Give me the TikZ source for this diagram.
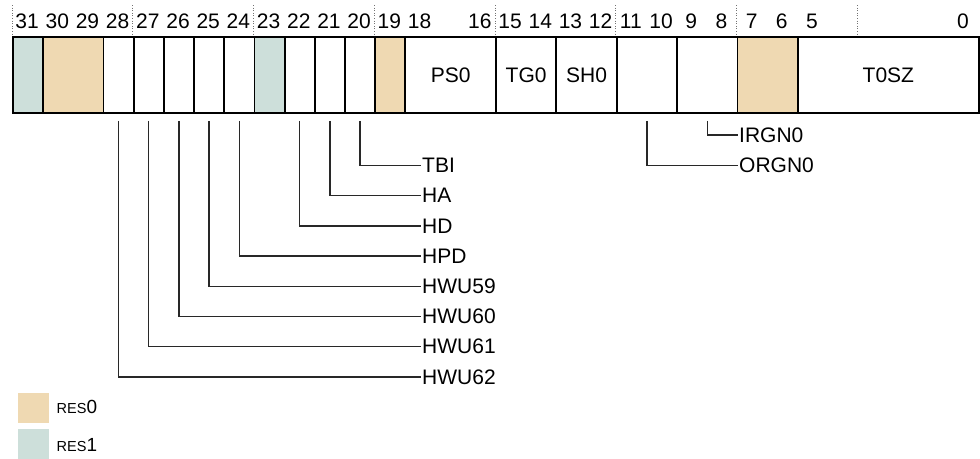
\documentclass[tikz,border=0pt]{standalone}
\usepackage{fontspec}
\setmainfont{Liberation Sans}
\definecolor{res0}{RGB}{239,217,178}
\definecolor{res1}{RGB}{205,223,218}
\definecolor{conncol}{RGB}{40,40,40}
\begin{document}
\begin{tikzpicture}[x=1pt,y=-1pt,
  field/.style={draw=black, line width=1.9pt, minimum height=76pt, inner sep=0pt, anchor=west,
    font=\fontsize{21}{23}\selectfont},
  bitnum/.style={inner sep=0pt, font=\fontsize{21}{23}\selectfont},
  lab/.style={anchor=west, inner sep=1pt, font=\fontsize{21}{23}\selectfont},
  conn/.style={draw=conncol, line width=1.4pt},
  nib/.style={draw=black!55, line width=0.6pt, dotted},
  legbox/.style={draw=none, inner sep=0pt, minimum width=31pt, minimum height=30pt}]
\useasboundingbox (0,0) rectangle (980,458);
\def\W{30.1875}
% nibble markers
\foreach \k in {0,...,7}
  \draw[nib] ({12+4*\k*\W},5) -- ({12+4*\k*\W},37);
% bit numbers
\foreach \b in {31,30,29,28,27,26,25,24,23,22,21,20,19,18,16,15,14,13,12,11,10,9,8,7,6,5,0}
  \node[bitnum] (b\b) at ({12+(31-\b+0.5)*\W},21) {\b};
% fields
\foreach \b/\n/\c/\t in {31/1/res1/,30/2/res0/,28/1/white/,27/1/white/,26/1/white/,25/1/white/,
    24/1/white/,23/1/res1/,22/1/white/,21/1/white/,20/1/white/,19/1/res0/,18/3/white/PS0,
    15/2/white/TG0,13/2/white/SH0,11/2/white/,9/2/white/,7/2/res0/,5/6/white/T0SZ}
  \node[field, fill=\c, minimum width={\n*\W pt}] (f\b) at ({12+(31-\b)*\W},75) {\t};
% labels
\node[lab] (tbi) at (421,165.5) {TBI};
\node[lab] (ha) at (421,195.7) {HA};
\node[lab] (hd) at (421,225.9) {HD};
\node[lab] (hpd) at (421,256.1) {HPD};
\node[lab] (hwu59) at (421,286.3) {HWU59};
\node[lab] (hwu60) at (421,316.5) {HWU60};
\node[lab] (hwu61) at (421,346.7) {HWU61};
\node[lab] (hwu62) at (421,376.9) {HWU62};
\node[lab] (irgn) at (738,135) {IRGN0};
\node[lab] (orgn) at (738,165.5) {ORGN0};
% connectors
\draw[conn] ([yshift=-7pt]f20.south) |- (tbi.west);
\draw[conn] ([yshift=-7pt]f21.south) |- (ha.west);
\draw[conn] ([yshift=-7pt]f22.south) |- (hd.west);
\draw[conn] ([yshift=-7pt]f24.south) |- (hpd.west);
\draw[conn] ([yshift=-7pt]f25.south) |- (hwu59.west);
\draw[conn] ([yshift=-7pt]f26.south) |- (hwu60.west);
\draw[conn] ([yshift=-7pt]f27.south) |- (hwu61.west);
\draw[conn] ([yshift=-7pt]f28.south) |- (hwu62.west);
\draw[conn] ([yshift=-7pt]f9.south) |- (irgn.west);
\draw[conn] ([yshift=-7pt]f11.south) |- (orgn.west);
% legend
\node[legbox, fill=res0] (k0) at (33.5,407.5) {};
\node[legbox, fill=res1] (k1) at (33.5,444) {};
\node[anchor=base west, inner sep=0pt] (t0) at (56.5,413) {{\fontsize{14.5}{16}\selectfont RES}\fontsize{19}{20}\selectfont 0};
\node[anchor=base west, inner sep=0pt] (t1) at (56.5,451.5) {{\fontsize{14.5}{16}\selectfont RES}\fontsize{19}{20}\selectfont 1};
\end{tikzpicture}
\end{document}
